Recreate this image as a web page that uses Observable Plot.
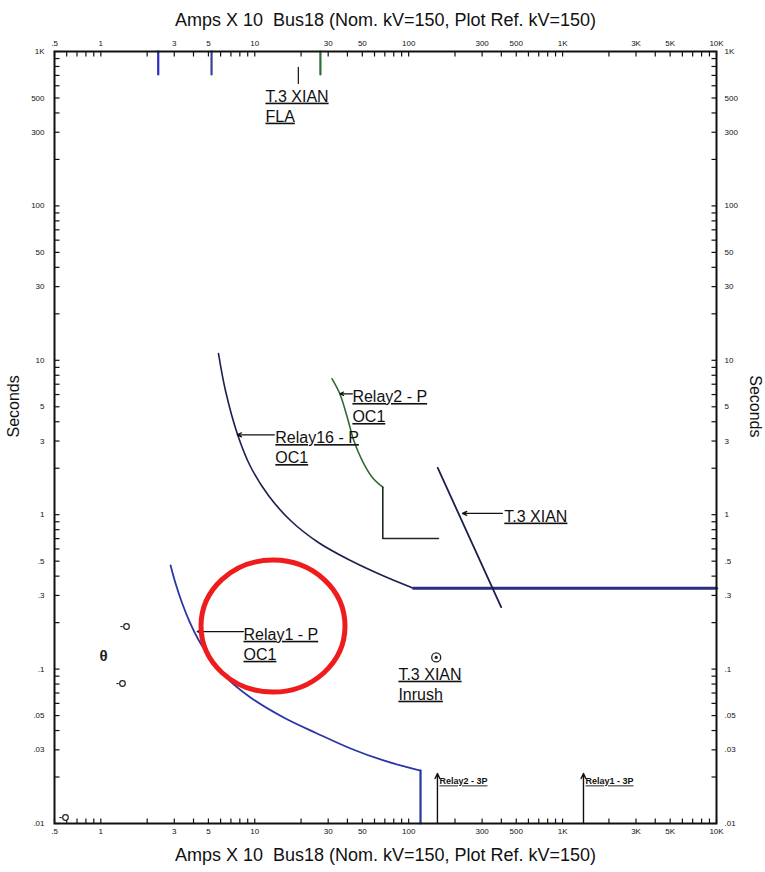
<!DOCTYPE html>
<html><head><meta charset="utf-8">
<script src="https://cdn.jsdelivr.net/npm/d3@7"></script>
<script src="https://cdn.jsdelivr.net/npm/@observablehq/plot@0.6"></script>
<style>
body{margin:0;background:#fff;}
g[font-family*="uline"] text{ text-decoration: underline; text-decoration-thickness: 1.5px; text-underline-offset: 2px; }
</style></head><body><div id="chart"></div>
<script>
// ---- axis labels ----
const xTickVals = [0.5, 1, 3, 5, 10, 30, 50, 100, 300, 500, 1000, 3000, 5000, 10000];
const xTickLabels = [".5", "1", "3", "5", "10", "30", "50", "100", "300", "500", "1K", "3K", "5K", "10K"];
const yTickVals = [1000, 500, 300, 100, 50, 30, 10, 5, 3, 1, 0.5, 0.3, 0.1, 0.05, 0.03, 0.01];
const yTickLabels = ["1K", "500", "300", "100", "50", "30", "10", "5", "3", "1", ".5", ".3", ".1", ".05", ".03", ".01"];
const titleText = "Amps X 10  Bus18 (Nom. kV=150, Plot Ref. kV=150)";
const yTitle = "Seconds";

// ---- curves (current, seconds) ----
const relay1I = [2.84, 3.06, 3.38, 3.82, 4.44, 5.29, 6.62, 9.38, 15.4, 25.4, 41.9, 68.6, 119.4];
const relay1T = [0.469, 0.358, 0.266, 0.197, 0.147, 0.114, 0.087, 0.0655, 0.0486, 0.0383, 0.0306, 0.0256, 0.022];
const relay1DropI = [119.4, 119.4];
const relay1DropT = [0.022, 0.01];

const relay16I = [5.81, 6.45, 7.73, 9.38, 12.28, 17.07, 25.9, 41.9, 67.6, 107.5];
const relay16T = [11.07, 6.37, 3.31, 2.052, 1.331, 0.917, 0.661, 0.505, 0.404, 0.334];
const relay16FlatI = [107.5, 10000];
const relay16FlatT = [0.334, 0.334];

const relay2I = [31.8, 35.7, 39.9, 44.0, 49.9, 57.9, 67.9];
const relay2T = [7.59, 6.07, 4.28, 3.02, 2.24, 1.75, 1.507];
const relay2StepI = [67.9, 67.9, 156];
const relay2StepT = [1.507, 0.701, 0.701];

const xianI = [154.5, 399];
const xianT = [2.01, 0.252];

// short marks at top
const topMarkI = [2.36, 5.24, 26.7];
const topMarkColor = ["#2a2ac0", "#3d3f96", "#2e6e2e"];
const topMarkT = [1000, 710];
const flaI = 19.2;
const flaT = [788, 621];

// annotations: text, text position, arrow tip
const annText = ["T.3 XIAN\nFLA", "Relay2 - P\nOC1", "Relay16 - P\nOC1", "T.3 XIAN", "Relay1 - P\nOC1", "T.3 XIAN\nInrush"];
const annI = [11.74, 43.1, 13.6, 418, 8.45, 85.8];
const annT = [535, 6.07, 3.29, 1.02, 0.175, 0.0965];
const arrowTipI = [7.69, 35.7, 4.23, 223.6];
const arrowTipT = [3.29, 6.07, 0.175, 1.02];
const arrowTailI = [13.43, 43.1, 8.45, 406.8];
const arrowTailT = [3.29, 6.07, 0.175, 1.02];

// small 3P arrows at bottom
const p3Text = ["Relay2 - 3P", "Relay1 - 3P"];
const p3I = [153.8, 1367];
const p3Top = 0.0211;
const p3TextT = 0.0187;

// inrush point
const inrushI = 151, inrushT = 0.119;

// small symbols at left
const symI = [1.425, 1.342, 0.572];
const symT = [0.1888, 0.0807, 0.01094];
const capsuleI = 1.04, capsuleT = 0.1208;

// highlight ellipse
const circleI = 13.14, circleT = 0.19;

// ---- build ----
const W = 765, H = 872, mL = 54, mR = 49, mT = 51, mB = 49;
const xDomain = [0.5, 10000], yDomain = [0.01, 1000];
const xMinor = d3.scaleLog().domain(xDomain).ticks();
const yMinor = d3.scaleLog().domain(yDomain).ticks();
// tick end points: the data value 5px inside the frame, found through the same log scales
const tickLen = 5;
const sx = d3.scaleLog().domain(xDomain).range([mL, W - mR]);
const sy = d3.scaleLog().domain(yDomain).range([H - mB, mT]);
const topEnd = sy.invert(mT + tickLen), botEnd = sy.invert(H - mB - tickLen);
const leftEnd = sx.invert(mL + tickLen), rightEnd = sx.invert(W - mR - tickLen);
const tickSegs = [
  ...xMinor.map(v => ({x1: v, x2: v, y1: yDomain[1], y2: topEnd})),
  ...xMinor.map(v => ({x1: v, x2: v, y1: yDomain[0], y2: botEnd})),
  ...yMinor.map(v => ({x1: xDomain[0], x2: leftEnd, y1: v, y2: v})),
  ...yMinor.map(v => ({x1: xDomain[1], x2: rightEnd, y1: v, y2: v}))
];

const pts = (xs, ys) => xs.map((x, i) => ({x, y: ys[i]}));
const labFont = "'Liberation Sans', Arial, sans-serif";
const annFont = "'Liberation Sans', Arial, uline";
const twoLine = annText.map((s, i) => ({s, x: annI[i], y: annT[i]}));

const ellipse = {
  draw(ctx) {
    const rx = 72, ry = 66, k = 0.5523, kx = rx * k, ky = ry * k;
    ctx.moveTo(rx, 0);
    ctx.bezierCurveTo(rx, ky, kx, ry, 0, ry);
    ctx.bezierCurveTo(-kx, ry, -rx, ky, -rx, 0);
    ctx.bezierCurveTo(-rx, -ky, -kx, -ry, 0, -ry);
    ctx.bezierCurveTo(kx, -ry, rx, -ky, rx, 0);
    ctx.closePath();
  }
};

const chart = Plot.plot({
  width: W, height: H,
  marginLeft: mL, marginRight: mR, marginTop: mT, marginBottom: mB,
  style: {fontFamily: labFont, background: "#fff"},
  x: {type: "log", domain: xDomain, axis: null},
  y: {type: "log", domain: yDomain, axis: null},
  marks: [
    // inward tick marks
    Plot.link(tickSegs, {x1: "x1", y1: "y1", x2: "x2", y2: "y2", stroke: "#111", strokeWidth: 1.2}),
    // tick labels
    Plot.text(xTickVals, {x: d => d, text: (d, i) => xTickLabels[i], frameAnchor: "top", dy: -11, fontSize: 8, fill: "#111"}),
    Plot.text(xTickVals, {x: d => d, text: (d, i) => xTickLabels[i], frameAnchor: "bottom", dy: 10, fontSize: 8, fill: "#111"}),
    Plot.text(yTickVals, {y: d => d, text: (d, i) => yTickLabels[i], frameAnchor: "left", dx: -10, textAnchor: "end", fontSize: 8, fill: "#111"}),
    Plot.text(yTickVals, {y: d => d, text: (d, i) => yTickLabels[i], frameAnchor: "right", dx: 8, textAnchor: "start", fontSize: 8, fill: "#111"}),
    // titles
    Plot.text([titleText], {text: d => d, frameAnchor: "top", dy: -38, fontSize: 18, fill: "#111"}),
    Plot.text([titleText], {text: d => d, frameAnchor: "bottom", dy: 37, fontSize: 18, fill: "#111"}),
    Plot.text([yTitle], {text: d => d, frameAnchor: "left", dx: -41, rotate: -90, fontSize: 16, fill: "#111"}),
    Plot.text([yTitle], {text: d => d, frameAnchor: "right", dx: 39, rotate: 90, fontSize: 16, fill: "#111"}),
    // top short marks
    ...topMarkI.map((I, i) => Plot.line(pts([I, I], topMarkT), {x: "x", y: "y", stroke: topMarkColor[i], strokeWidth: 2.2})),
    Plot.line(pts([flaI, flaI], flaT), {x: "x", y: "y", stroke: "#222", strokeWidth: 1.3}),
    // curves
    Plot.line(pts(relay16I, relay16T), {x: "x", y: "y", stroke: "#1b1f4f", strokeWidth: 1.6, curve: "catmull-rom"}),
    Plot.line(pts(relay16FlatI, relay16FlatT), {x: "x", y: "y", stroke: "#28307e", strokeWidth: 3}),
    Plot.line(pts(relay2I, relay2T), {x: "x", y: "y", stroke: "#2f6b35", strokeWidth: 1.6, curve: "catmull-rom"}),
    Plot.line(pts(relay2StepI, relay2StepT), {x: "x", y: "y", stroke: "#1e2a1e", strokeWidth: 1.6}),
    Plot.line(pts(xianI, xianT), {x: "x", y: "y", stroke: "#1b1f4f", strokeWidth: 1.8}),
    Plot.line(pts(relay1I, relay1T), {x: "x", y: "y", stroke: "#2a36a6", strokeWidth: 1.8, curve: "catmull-rom"}),
    Plot.line(pts(relay1DropI, relay1DropT), {x: "x", y: "y", stroke: "#2a36a6", strokeWidth: 2.2}),
    // annotation arrows
    Plot.arrow(arrowTipI.map((x, i) => i), {x1: i => arrowTailI[i], y1: i => arrowTailT[i], x2: i => arrowTipI[i], y2: i => arrowTipT[i], stroke: "#111", strokeWidth: 1.2, headLength: 6, headAngle: 50}),
    Plot.arrow(p3I.map((x, i) => i), {x1: i => p3I[i], y1: () => 0.01, x2: i => p3I[i], y2: () => p3Top, stroke: "#111", strokeWidth: 1.4, headLength: 6, headAngle: 50}),
    // annotation texts
    Plot.text(twoLine, {x: "x", y: "y", text: "s", textAnchor: "start", lineAnchor: "top", dy: -6, lineHeight: 1.25, fontSize: 16, fill: "#111", fontFamily: annFont}),
    Plot.text(p3Text.map((s, i) => ({s, x: p3I[i]})), {x: "x", y: () => p3TextT, text: "s", textAnchor: "start", dx: 2, fontSize: 9, fontWeight: "bold", fill: "#111", fontFamily: annFont}),
    // inrush marker
    Plot.dot([0], {x: () => inrushI, y: () => inrushT, r: 4.5, stroke: "#222", strokeWidth: 1.3, fill: "none"}),
    Plot.dot([0], {x: () => inrushI, y: () => inrushT, r: 1.6, fill: "#222"}),
    // left small symbols
    Plot.dot(symI.map((x, i) => i), {x: i => symI[i], y: i => symT[i], r: 2.8, stroke: "#222", strokeWidth: 1.2, fill: "#fff", dx: 2}),
    Plot.text(symI.map((x, i) => i), {x: i => symI[i], y: i => symT[i], text: () => "-", dx: -3, fontSize: 9, fontWeight: "bold", fill: "#222"}),
    Plot.text([0], {x: () => capsuleI, y: () => capsuleT, text: () => "θ", fontSize: 15, fontWeight: "bold", fill: "#222"}),
    // red highlight
    Plot.dot([0], {x: () => circleI, y: () => circleT, symbol: ellipse, r: 10, stroke: "#ee1c1c", strokeWidth: 5, fill: "none"}),
    // frame
    Plot.frame({stroke: "#111", strokeWidth: 2})
  ]
});
document.getElementById("chart").appendChild(chart);
</script></body></html>
